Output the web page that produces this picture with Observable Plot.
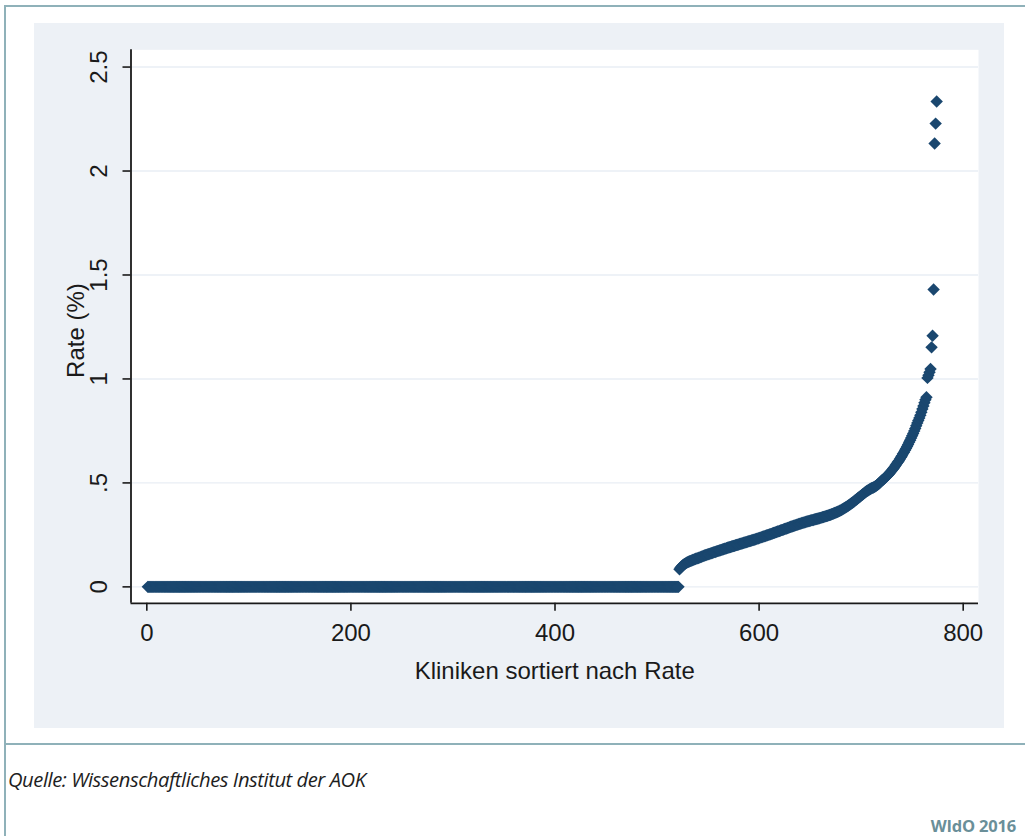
<!DOCTYPE html>
<html>
<head>
<meta charset="utf-8">
<script src="https://cdn.jsdelivr.net/npm/d3@7"></script>
<script src="https://cdn.jsdelivr.net/npm/@observablehq/plot@0.6"></script>
<style>
  html, body { margin: 0; padding: 0; background: #ffffff; }
  #page { position: relative; width: 1025px; height: 836px; overflow: hidden; font-family: "Liberation Sans", Arial, sans-serif; }
  #frame { position: absolute; left: 4px; top: 5px; right: -4px; bottom: -4px; border-left: 2px solid #8fb1b9; border-top: 2px solid #8fb1b9; }
  #sep { position: absolute; left: 4px; right: 0; top: 743px; height: 2px; background: #8fb1b9; }
  #panel { position: absolute; left: 34px; top: 23px; width: 970px; height: 705px; background: #edf1f6; }
  #panel svg { display: block; }
  #caption { position: absolute; left: 8px; top: 765px; font-family: "Open Sans", "Liberation Sans", sans-serif; font-style: italic; font-size: 20.2px; color: #1e1e1e; white-space: nowrap; letter-spacing: -0.45px; }
  #brand { position: absolute; right: 9px; top: 814px; font-family: "Open Sans", "Liberation Sans", sans-serif; font-weight: bold; font-size: 16.5px; color: #6a8f99; white-space: nowrap; letter-spacing: -0.2px; }
</style>
</head>
<body>
<div id="page">
  <div id="frame"></div>
  <div id="sep"></div>
  <div id="panel"></div>
  <div id="caption"></div>
  <div id="brand"></div>
</div>
<script>
// ---- Data ----
const clinicsWithZeroRate = 521;      // clinics ranked 1..521 have a rate of 0
const nonZeroRates = [                // sorted rates (%) of the remaining clinics
  0.085, 0.092, 0.098, 0.103, 0.107, 0.110, 0.113, 0.116, 0.119, 0.121,
  0.123, 0.125, 0.127, 0.129, 0.131, 0.133, 0.135, 0.137, 0.138, 0.140,
  0.142, 0.144, 0.146, 0.148, 0.150, 0.152, 0.153, 0.155, 0.157, 0.158,
  0.160, 0.162, 0.163, 0.165, 0.167, 0.168, 0.170, 0.172, 0.173, 0.175,
  0.176, 0.178, 0.180, 0.181, 0.183, 0.184, 0.186, 0.188, 0.189, 0.191,
  0.192, 0.194, 0.195, 0.197, 0.198, 0.200, 0.201, 0.203, 0.204, 0.206,
  0.207, 0.209, 0.210, 0.212, 0.213, 0.215, 0.216, 0.218, 0.219, 0.221,
  0.222, 0.224, 0.225, 0.227, 0.228, 0.230, 0.232, 0.233, 0.235, 0.237,
  0.238, 0.240, 0.242, 0.243, 0.245, 0.247, 0.248, 0.250, 0.252, 0.253,
  0.255, 0.257, 0.259, 0.260, 0.262, 0.264, 0.266, 0.267, 0.269, 0.271,
  0.273, 0.274, 0.276, 0.278, 0.280, 0.281, 0.283, 0.285, 0.287, 0.289,
  0.290, 0.292, 0.294, 0.295, 0.297, 0.299, 0.300, 0.302, 0.304, 0.305,
  0.307, 0.308, 0.310, 0.311, 0.313, 0.314, 0.316, 0.317, 0.318, 0.320,
  0.321, 0.322, 0.324, 0.325, 0.326, 0.328, 0.329, 0.330, 0.332, 0.333,
  0.335, 0.336, 0.338, 0.339, 0.341, 0.342, 0.344, 0.346, 0.347, 0.349,
  0.351, 0.353, 0.355, 0.357, 0.359, 0.361, 0.363, 0.366, 0.368, 0.371,
  0.374, 0.377, 0.380, 0.383, 0.386, 0.389, 0.393, 0.396, 0.400, 0.403,
  0.407, 0.411, 0.415, 0.419, 0.423, 0.427, 0.431, 0.435, 0.439, 0.443,
  0.447, 0.451, 0.455, 0.459, 0.462, 0.465, 0.468, 0.471, 0.474, 0.476,
  0.478, 0.481, 0.484, 0.487, 0.491, 0.495, 0.500, 0.505, 0.510, 0.514,
  0.518, 0.522, 0.527, 0.532, 0.537, 0.542, 0.548, 0.554, 0.560, 0.566,
  0.572, 0.579, 0.586, 0.593, 0.600, 0.607, 0.615, 0.623, 0.631, 0.640,
  0.648, 0.657, 0.666, 0.675, 0.685, 0.695, 0.705, 0.716, 0.727, 0.738,
  0.750, 0.762, 0.775, 0.788, 0.800, 0.812, 0.825, 0.840, 0.855, 0.870,
  0.885, 0.900, 0.912,
  1.005, 1.018, 1.032, 1.048, 1.152, 1.208, 1.430, 2.132, 2.228, 2.334
];
const xTicks = [0, 200, 400, 600, 800];
const xTickLabels = ["0", "200", "400", "600", "800"];
const yTicks = [0, 0.5, 1, 1.5, 2, 2.5];
const yTickLabels = ["0", ".5", "1", "1.5", "2", "2.5"];
const xTitle = "Kliniken sortiert nach Rate";
const yTitle = "Rate (%)";
const captionText = "Quelle: Wissenschaftliches Institut der AOK";
const brandText = "WIdO 2016";
const xDomain = [-15.5, 815];
const yDomain = [-0.079, 2.583];

// ---- Build table ----
const rates = [...Array(clinicsWithZeroRate).fill(0), ...nonZeroRates];
const rows = rates.map((rate, i) => ({rank: i + 1, rate}));

const axisColor = "#1a1a1a";
const chart = Plot.plot({
  width: 970,
  height: 705,
  marginLeft: 96.5,
  marginRight: 26,
  marginTop: 26.3,
  marginBottom: 125.2,
  style: {background: "transparent", fontFamily: "'Liberation Sans', Arial, sans-serif", fontSize: "24px", color: axisColor},
  x: {domain: xDomain},
  y: {domain: yDomain},
  marks: [
    Plot.frame({fill: "#ffffff", stroke: null}),
    Plot.gridY(yTicks, {stroke: "#e9eef4", strokeOpacity: 1, strokeWidth: 1.4}),
    Plot.axisX(xTicks, {tickSize: 8, tickPadding: 13, fontSize: 24, strokeWidth: 1.6, tickFormat: d => xTickLabels[xTicks.indexOf(d)], label: null}),
    Plot.axisY(yTicks, {tickSize: 8, tickPadding: 16, tickRotate: -90, fontSize: 24, strokeWidth: 1.6, tickFormat: d => yTickLabels[yTicks.indexOf(d)], label: null}),
    Plot.ruleX([xDomain[0]], {stroke: axisColor, strokeWidth: 1.8}),
    Plot.ruleY([yDomain[0]], {stroke: axisColor, strokeWidth: 1.8}),
    Plot.dot(rows, {x: "rank", y: "rate", symbol: "diamond2", r: 5.6, fill: "#1a476f", stroke: null}),
    Plot.text([xTitle], {text: d => d, frameAnchor: "bottom", lineAnchor: "bottom", dy: 75.5, fontSize: 24, fill: axisColor}),
    Plot.text([yTitle], {text: d => d, frameAnchor: "left", textAnchor: "middle", rotate: -90, lineAnchor: "bottom", dx: -47.5, dy: 4, fontSize: 24, fill: axisColor})
  ]
});
document.getElementById("panel").appendChild(chart);
document.getElementById("caption").textContent = captionText;
document.getElementById("brand").textContent = brandText;
</script>
</body>
</html>
